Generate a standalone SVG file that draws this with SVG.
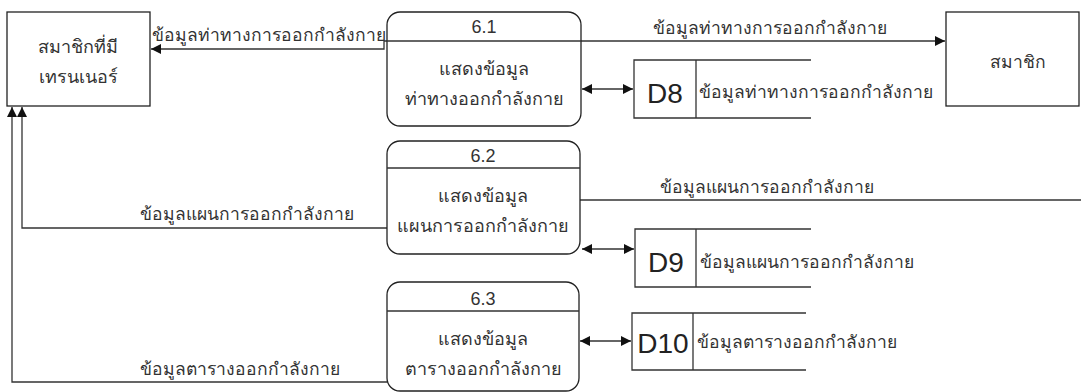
<svg xmlns="http://www.w3.org/2000/svg" width="1081" height="392" viewBox="0 0 1081 392">
<style>
.box{fill:#fff;stroke:#222;stroke-width:1.3}
.ln{fill:none;stroke:#333;stroke-width:1.3}
.t{font-family:"Liberation Sans","Noto Sans",sans-serif;font-size:17.5px;font-weight:300;fill:#333}
.p{font-size:18px}
.c{text-anchor:middle}
.d{font-family:"Liberation Sans","Noto Sans",sans-serif;font-size:28px;fill:#222;text-anchor:middle}
</style>
<defs>
<marker id="ah" viewBox="0 0 10 10" refX="10" refY="5" markerWidth="12" markerHeight="10" markerUnits="userSpaceOnUse" orient="auto-start-reverse">
<path d="M0,0 L10,5 L0,10 z" fill="#111"/>
</marker>
</defs>
<rect width="1081" height="392" fill="#fff"/>
<g id="connectors">
<path class="ln" d="M387,41 H384 V49 H151" marker-end="url(#ah)"/>
<path class="ln" d="M581,41 H945" marker-end="url(#ah)"/>
<path class="ln" d="M582,89 H633" marker-start="url(#ah)" marker-end="url(#ah)"/>
<path class="ln" d="M580,200 H1081"/>
<path class="ln" d="M387,228 H22 V107" marker-end="url(#ah)"/>
<path class="ln" d="M582,249 H634" marker-start="url(#ah)" marker-end="url(#ah)"/>
<path class="ln" d="M387,382 H12 V107" marker-end="url(#ah)"/>
<path class="ln" d="M580,341 H631" marker-start="url(#ah)" marker-end="url(#ah)"/>
<text class="t" x="152" y="41">ข้อมูลท่าทางการออกกำลังกาย</text>
<text class="t" x="653" y="34">ข้อมูลท่าทางการออกกำลังกาย</text>
<text class="t" x="660" y="193">ข้อมูลแผนการออกกำลังกาย</text>
<text class="t" x="140" y="220">ข้อมูลแผนการออกกำลังกาย</text>
<text class="t" x="140" y="375">ข้อมูลตารางออกกำลังกาย</text>
</g>
<g id="ext-trainer">
<rect class="box" x="7" y="12" width="143" height="94"/>
<text class="t p c" x="78" y="53">สมาชิกที่มี</text>
<text class="t p c" x="78" y="83">เทรนเนอร์</text>
</g>
<g id="ext-member">
<rect class="box" x="946" y="12" width="133" height="94"/>
<text class="t c" x="1018" y="68">สมาชิก</text>
</g>
<g id="p61">
<rect class="box" x="387" y="12" width="194" height="114" rx="13"/>
<path class="ln" d="M387,41 H581"/>
<text class="t p c" x="484" y="33">6.1</text>
<text class="t p c" x="484" y="75">แสดงข้อมูล</text>
<text class="t p c" x="484" y="105">ท่าทางออกกำลังกาย</text>
</g>
<g id="p62">
<rect class="box" x="387" y="141" width="193" height="113" rx="13"/>
<path class="ln" d="M387,168 H580"/>
<text class="t p c" x="483" y="162">6.2</text>
<text class="t p c" x="483" y="202">แสดงข้อมูล</text>
<text class="t p c" x="483" y="232">แผนการออกกำลังกาย</text>
</g>
<g id="p63">
<rect class="box" x="387" y="282" width="192" height="109" rx="13"/>
<path class="ln" d="M387,311 H579"/>
<text class="t p c" x="483" y="305">6.3</text>
<text class="t p c" x="483" y="345">แสดงข้อมูล</text>
<text class="t p c" x="483" y="375">ตารางออกกำลังกาย</text>
</g>
<g id="d8">
<path class="ln" d="M811,60 H634 V118 H811 M696,60 V118"/>
<text class="d" x="665" y="103">D8</text>
<text class="t" x="699" y="98">ข้อมูลท่าทางการออกกำลังกาย</text>
</g>
<g id="d9">
<path class="ln" d="M811,229 H635 V287 H811 M696,229 V287"/>
<text class="d" x="666" y="272">D9</text>
<text class="t" x="700" y="268">ข้อมูลแผนการออกกำลังกาย</text>
</g>
<g id="d10">
<path class="ln" d="M806,313 H632 V370 H806 M693,313 V370"/>
<text class="d" x="663" y="353">D10</text>
<text class="t" x="697" y="348">ข้อมูลตารางออกกำลังกาย</text>
</g>
</svg>
